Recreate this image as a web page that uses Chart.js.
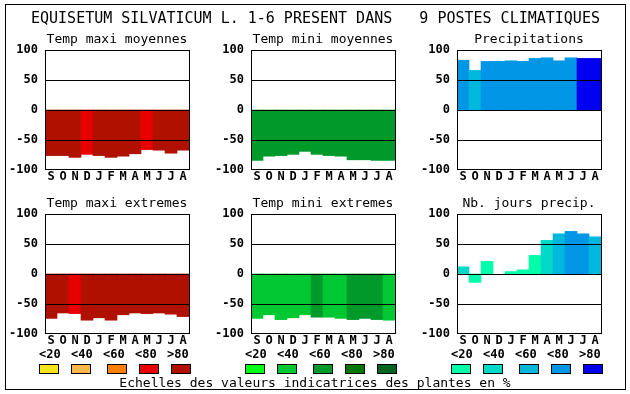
<!DOCTYPE html>
<html>
<head>
<meta charset="utf-8">
<script src="https://cdn.jsdelivr.net/npm/chart.js@4.4.1/dist/chart.umd.min.js"></script>
<style>
  body { margin: 0; background: #fff; width: 630px; height: 394px; position: relative; overflow: hidden; }
  .frame { position: absolute; left: 5px; top: 4px; width: 619px; height: 384px; border: 1px solid #000; }
  .txt { position: absolute; font-family: 'DejaVu Sans Mono', monospace; color: #000; white-space: pre; line-height: 1; }
  .panel { position: absolute; }
  .box { position: absolute; width: 18px; height: 8px; border: 1px solid #000; }
</style>
</head>
<body>
<div class="frame"></div>
<div id="root"></div>
<script>
// mois (septembre -> aout)
const months = ['S', 'O', 'N', 'D', 'J', 'F', 'M', 'A', 'M', 'J', 'J', 'A'];
const yTicks = [100, 50, 0, -50, -100];
const scaleLabels = ['<20', '<40', '<60', '<80', '>80'];

// palettes (classes <20 ... >80)
const redPalette = ['#F8E418', '#FFB84C', '#FF7F00', '#E80000', '#B01000'];
const greenPalette = ['#00FF10', '#00C832', '#009A2A', '#007800', '#006420'];
const bluePalette = ['#00FFA8', '#00D8C8', '#00B8DC', '#0096E6', '#0000F0'];

// valeurs par panneau + classe de couleur
const maxiMoy = [-76, -76, -79, -74, -76, -79, -77, -73, -66, -67, -72, -67];
const maxiMoyCls = [4, 4, 4, 3, 4, 4, 4, 4, 3, 4, 4, 4];
const miniMoy = [-84, -77, -76, -74, -69, -74, -76, -77, -83, -83, -84, -84];
const miniMoyCls = [2, 2, 2, 2, 2, 2, 2, 2, 2, 2, 2, 2];
const precip = [83, 66, 81, 81, 82, 81, 86, 87, 82, 87, 86, 86];
const precipCls = [3, 2, 3, 3, 3, 3, 3, 3, 3, 3, 4, 4];
const maxiExt = [-74, -65, -66, -77, -73, -77, -68, -65, -66, -65, -67, -71];
const maxiExtCls = [4, 4, 3, 4, 4, 4, 4, 4, 4, 4, 4, 4];
const miniExt = [-74, -68, -76, -73, -68, -72, -72, -74, -76, -74, -76, -77];
const miniExtCls = [1, 1, 1, 1, 1, 2, 1, 1, 2, 2, 2, 1];
const joursPrecip = [12, -14, 21, null, 4, 7, 31, 56, 67, 71, 67, 62];
const joursPrecipCls = [1, 0, 0, 0, 0, 0, 0, 1, 2, 3, 3, 2];

const panels = [
    { title: 'Temp maxi moyennes', data: maxiMoy, cls: maxiMoyCls, pal: redPalette, left: 45, top: 50 },
    { title: 'Temp mini moyennes', data: miniMoy, cls: miniMoyCls, pal: greenPalette, left: 251, top: 50 },
    { title: 'Precipitations', data: precip, cls: precipCls, pal: bluePalette, left: 457, top: 50 },
    { title: 'Temp maxi extremes', data: maxiExt, cls: maxiExtCls, pal: redPalette, left: 45, top: 214 },
    { title: 'Temp mini extremes', data: miniExt, cls: miniExtCls, pal: greenPalette, left: 251, top: 214 },
    { title: 'Nb. jours precip.', data: joursPrecip, cls: joursPrecipCls, pal: bluePalette, left: 457, top: 214 }
];

const PLOT_W = 144, PLOT_H = 120;
// Chart.js réserve 13px en haut pour les libellés de l'axe y
const PAD_L = 45, PAD_T = 13, PAD_R = 4, PAD_B = 22;
const root = document.getElementById('root');

function addText(str, x, y, size, opts = {}) {
    const d = document.createElement('div');
    d.className = 'txt';
    d.textContent = str;
    d.style.fontSize = size + 'px';
    d.style.top = (y - size / 2) + 'px';
    if (opts.bold) d.style.fontWeight = 'bold';
    d.style.left = x + 'px';
    if (opts.center) d.style.transform = 'translateX(-50%)';
    root.appendChild(d);
}

// lignes 100/50/0/-50/-100 et cadre, dessinés au-dessus des barres
const framePlugin = {
    id: 'frameLines',
    afterDatasetsDraw(chart) {
        const { ctx, chartArea: a, scales: { y } } = chart;
        ctx.save();
        ctx.fillStyle = '#000';
        yTicks.forEach(v => {
            const py = Math.min(Math.round(y.getPixelForValue(v)), a.bottom - 1);
            ctx.fillRect(a.left, py, a.right - a.left + 1, 1);
        });
        ctx.fillRect(a.left, a.top, 1, a.bottom - a.top);
        ctx.fillRect(a.right, a.top, 1, a.bottom - a.top);
        ctx.restore();
    }
};

function drawPanel(p) {
    const wrap = document.createElement('div');
    wrap.className = 'panel';
    const w = PAD_L + PLOT_W + PAD_R, h = PAD_T + PLOT_H + PAD_B;
    wrap.style.left = (p.left - PAD_L) + 'px';
    wrap.style.top = (p.top - PAD_T) + 'px';
    const canvas = document.createElement('canvas');
    canvas.width = w;
    canvas.height = h;
    wrap.appendChild(canvas);
    root.appendChild(wrap);

    addText(p.title, p.left + PLOT_W / 2, p.top - 12, 13, { center: true });

    new Chart(canvas.getContext('2d'), {
        type: 'bar',
        data: {
            labels: months,
            datasets: [{
                data: p.data,
                backgroundColor: p.cls.map(c => p.pal[c]),
                borderWidth: 0,
                barPercentage: 1,
                categoryPercentage: 1
            }]
        },
        options: {
            responsive: false,
            animation: false,
            devicePixelRatio: 1,
            layout: { autoPadding: false, padding: { left: 0, top: 0, right: PAD_R, bottom: 0 } },
            plugins: { legend: { display: false }, tooltip: { enabled: false } },
            scales: {
                x: {
                    grid: { display: false, drawTicks: false },
                    border: { display: false },
                    ticks: { color: '#000', padding: 1, maxRotation: 0, minRotation: 0, autoSkip: false,
                             font: { family: 'DejaVu Sans Mono', size: 12, weight: 'bold', lineHeight: 1 } },
                    afterFit: s => { s.height = PAD_B; }
                },
                y: {
                    min: -100, max: 100,
                    afterBuildTicks: s => { s.ticks = yTicks.map(v => ({ value: v })); },
                    grid: { display: false, drawTicks: false },
                    border: { display: false },
                    ticks: { color: '#000', padding: 7,
                             font: { family: 'DejaVu Sans Mono', size: 12, weight: 'bold', lineHeight: 1 } },
                    afterFit: s => { s.width = PAD_L; }
                }
            }
        },
        plugins: [framePlugin]
    });
}

panels.forEach(drawPanel);

// titre général
addText('EQUISETUM SILVATICUM L. 1-6 PRESENT DANS   9 POSTES CLIMATIQUES', 31, 18, 15);

// échelles de couleurs
const legendRows = [
    { pal: redPalette, labelX: [39, 71, 103, 135, 167], boxX: [39, 71, 107, 139, 171] },
    { pal: greenPalette, labelX: [245, 277, 309, 341, 373], boxX: [245, 277, 313, 345, 377] },
    { pal: bluePalette, labelX: [451, 483, 515, 547, 579], boxX: [451, 483, 519, 551, 583] }
];
legendRows.forEach(r => {
    scaleLabels.forEach((lab, i) => addText(lab, r.labelX[i], 354, 12, { bold: true }));
    r.pal.forEach((c, i) => {
        const b = document.createElement('div');
        b.className = 'box';
        b.style.left = r.boxX[i] + 'px';
        b.style.top = '364px';
        b.style.background = c;
        root.appendChild(b);
    });
});
addText('Echelles des valeurs indicatrices des plantes en %', 315, 382, 13, { center: true });
</script>
</body>
</html>
